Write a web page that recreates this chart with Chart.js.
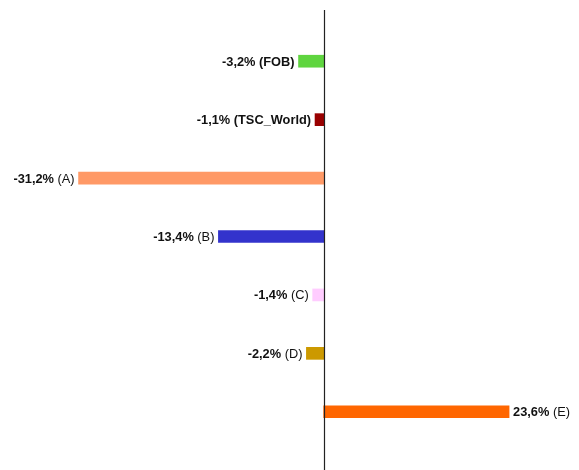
<!DOCTYPE html>
<html>
<head>
<meta charset="utf-8">
<script src="https://cdn.jsdelivr.net/npm/chart.js@4/dist/chart.umd.min.js"></script>
<style>
  html, body { margin: 0; padding: 0; background: #fff; }
  #wrap { width: 579px; height: 470px; position: relative; }
</style>
</head>
<body>
<div id="wrap"><canvas id="chart"></canvas></div>
<script>
// series, top to bottom
const categories = ['FOB', 'TSC_World', 'A', 'B', 'C', 'D', 'E'];
const values = [-3.2, -1.1, -31.2, -13.4, -1.4, -2.2, 23.6];
const colors = ['#5fd53f', '#990000', '#ff9966', '#3333cc', '#ffccff', '#cc9900', '#ff6600'];
// which category names are set in bold
const boldNames = [true, true, false, false, false, false, false];

const FONT = 'Liberation Sans, Arial, sans-serif';
const SIZE = '12.8px ';

function fmt(v) {
  return v.toFixed(1).replace('.', ',') + '%';
}

// zero line runs past the plot area, as in the original
const zeroLine = {
  id: 'zeroLine',
  afterDatasetsDraw(chart) {
    const ctx = chart.ctx;
    const x = Math.round(chart.scales.x.getPixelForValue(0)) + 0.5;
    ctx.save();
    ctx.strokeStyle = '#222';
    ctx.lineWidth = 1.2;
    ctx.beginPath();
    ctx.moveTo(x, 10);
    ctx.lineTo(x, chart.height);
    ctx.stroke();
    ctx.restore();
  },
};

const barLabels = {
  id: 'barLabels',
  afterDatasetsDraw(chart) {
    const ctx = chart.ctx;
    const meta = chart.getDatasetMeta(0);
    ctx.save();
    ctx.fillStyle = '#111';
    ctx.textBaseline = 'middle';
    meta.data.forEach((bar, i) => {
      const v = values[i];
      const valTxt = fmt(v) + ' ';
      const nameTxt = '(' + categories[i] + ')';
      ctx.font = 'bold ' + SIZE + FONT;
      const w1 = ctx.measureText(valTxt).width;
      ctx.font = (boldNames[i] ? 'bold ' : '') + SIZE + FONT;
      const w2 = ctx.measureText(nameTxt).width;
      let x;
      if (v < 0) {
        x = bar.x - 4 - w1 - w2;
      } else {
        x = bar.x + 4;
      }
      const y = bar.y + 1;
      ctx.textAlign = 'left';
      ctx.font = 'bold ' + SIZE + FONT;
      ctx.fillText(valTxt, x, y);
      ctx.font = (boldNames[i] ? 'bold ' : '') + SIZE + FONT;
      ctx.fillText(nameTxt, x + w1, y);
    });
    ctx.restore();
  },
};

new Chart(document.getElementById('chart'), {
  type: 'bar',
  data: {
    labels: categories,
    datasets: [{
      data: values,
      backgroundColor: colors,
      barThickness: 12,
      borderWidth: 0,
    }],
  },
  options: {
    indexAxis: 'y',
    responsive: true,
    maintainAspectRatio: false,
    animation: false,
    layout: { padding: { top: 32, bottom: 29, left: 0, right: 0 } },
    plugins: {
      legend: { display: false },
      tooltip: { enabled: false },
    },
    scales: {
      x: {
        display: false,
        min: -41.2,
        max: 32.5,
      },
      y: {
        display: false,
      },
    },
  },
  plugins: [zeroLine, barLabels],
});
</script>
</body>
</html>
